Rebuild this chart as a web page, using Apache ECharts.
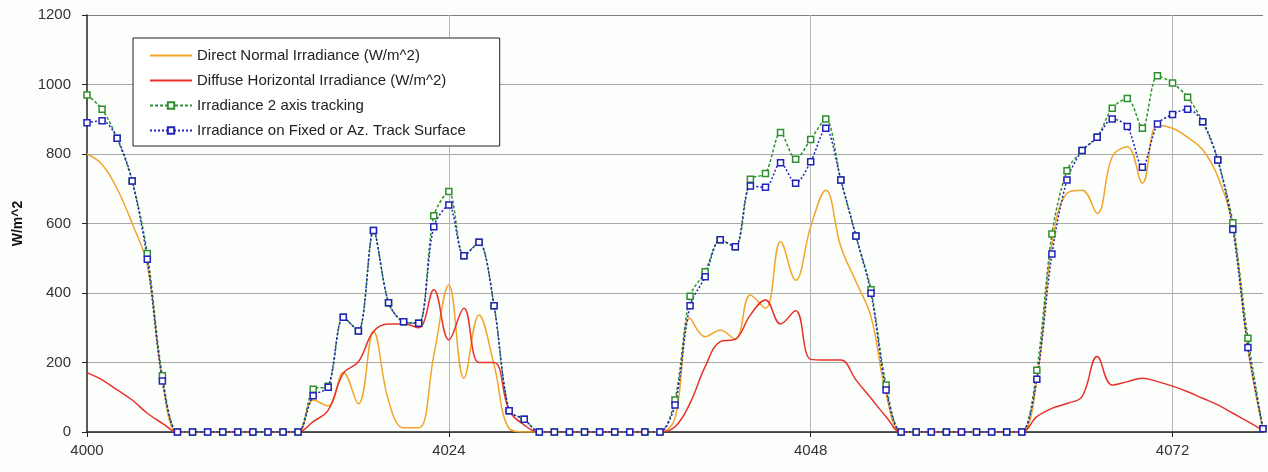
<!DOCTYPE html>
<html>
<head>
<meta charset="utf-8">
<script src="https://cdn.jsdelivr.net/npm/echarts@6/dist/echarts.min.js"></script>
<style>
html,body{margin:0;padding:0;background:#fcfefc;}
#chart{width:1268px;height:472px;}
</style>
</head>
<body>
<div id="chart"></div>
<script>
const startHour = 4000;
const xTicks = [4000, 4024, 4048, 4072];
const seriesNames = [
  'Direct Normal Irradiance (W/m^2)',
  'Diffuse Horizontal Irradiance (W/m^2)',
  'Irradiance 2 axis tracking',
  'Irradiance on Fixed or Az. Track Surface'
];
const directNormal = [
  800, 770, 700, 600, 480, 150,
  0, 0, 0, 0, 0, 0, 0, 0, 0,
  92, 75, 171, 81, 289, 90, 12, 12, 220, 423, 155, 337, 193, 10, 0,
  0, 0, 0, 0, 0, 0, 0, 0, 0,
  40, 327, 274, 293, 267, 394, 356, 548, 437, 591, 696, 533, 433, 332, 110,
  0, 0, 0, 0, 0, 0, 0, 0, 0,
  150, 540, 687, 696, 629, 792, 821, 716, 883, 874, 848, 812, 735, 591, 240, 5
];
const diffuseHorizontal = [
  171, 150, 121, 92, 54, 25,
  0, 0, 0, 0, 0, 0, 0, 0, 0,
  30, 63, 169, 202, 289, 311, 311, 300, 409, 265, 356, 200, 200, 63, 20,
  0, 0, 0, 0, 0, 0, 0, 0, 0,
  15, 83, 188, 260, 267, 337, 380, 311, 349, 209, 207, 207, 150, 97, 44,
  0, 0, 0, 0, 0, 0, 0, 0, 0,
  44, 68, 82, 102, 217, 135, 145, 155, 145, 132, 116, 97, 78, 54, 30, 5
];
const twoAxis = [
  970, 929, 845, 722, 514, 162,
  0, 0, 0, 0, 0, 0, 0, 0, 0,
  123, 132, 330, 291, 580, 372, 317, 313, 622, 692, 507, 546, 363, 61, 37,
  0, 0, 0, 0, 0, 0, 0, 0, 0,
  92, 391, 461, 553, 533, 727, 744, 862, 785, 842, 901, 725, 564, 409, 135,
  0, 0, 0, 0, 0, 0, 0, 0, 0,
  178, 570, 752, 810, 848, 932, 960, 874, 1025, 1004, 963, 893, 783, 602, 270, 9
];
const fixedSurface = [
  890, 896, 845, 722, 497, 147,
  0, 0, 0, 0, 0, 0, 0, 0, 0,
  104, 129, 330, 291, 580, 372, 317, 313, 591, 653, 507, 546, 363, 61, 37,
  0, 0, 0, 0, 0, 0, 0, 0, 0,
  78, 363, 447, 553, 533, 708, 704, 775, 716, 778, 874, 725, 564, 399, 121,
  0, 0, 0, 0, 0, 0, 0, 0, 0,
  152, 512, 725, 810, 848, 901, 879, 762, 886, 914, 929, 893, 783, 583, 243, 9
];

const toPairs = arr => arr.map((v, i) => [startHour + i, v]);
const endHour = startHour + directNormal.length - 1;

const chart = echarts.init(document.getElementById('chart'), null, {renderer: 'canvas'});
const font = '"Liberation Sans", Arial, sans-serif';
chart.setOption({
  backgroundColor: '#fcfefc',
  animation: false,
  textStyle: {fontFamily: font},
  grid: {left: 87, right: 5, top: 15, bottom: 40, containLabel: false},
  legend: {
    orient: 'vertical',
    left: 133, top: 38,
    padding: [10, 34, 8, 16],
    itemGap: 10,
    itemWidth: 42, itemHeight: 8,
    backgroundColor: '#ffffff',
    borderColor: '#222', borderWidth: 1,
    textStyle: {fontFamily: font, fontSize: 15, color: '#222'},
    data: [
      {name: seriesNames[0], itemStyle: {opacity: 0}},
      {name: seriesNames[1], itemStyle: {opacity: 0}},
      {name: seriesNames[2]},
      {name: seriesNames[3]}
    ]
  },
  xAxis: {
    type: 'value', min: startHour, max: endHour, interval: 24,
    axisLine: {show: true, lineStyle: {color: '#222', width: 1.5}},
    axisTick: {show: true, length: 5, lineStyle: {color: '#222'}},
    axisLabel: {fontFamily: font, fontSize: 15, color: '#333', margin: 11, showMaxLabel: false,
      formatter: v => xTicks.includes(v) ? String(v) : ''},
    splitLine: {show: true, showMinLine: false, showMaxLine: false, lineStyle: {color: '#b8b8b8', width: 1}}
  },
  yAxis: {
    type: 'value', min: 0, max: 1200, interval: 200,
    name: 'W/m^2', nameLocation: 'middle', nameGap: 62, nameRotate: 90,
    nameTextStyle: {fontFamily: font, fontSize: 14, fontWeight: 'bold', color: '#111'},
    axisLine: {show: true, lineStyle: {color: '#222', width: 1.5}},
    axisTick: {show: true, length: 5, lineStyle: {color: '#222'}},
    axisLabel: {fontFamily: font, fontSize: 15, color: '#333', margin: 16, formatter: v => String(v)},
    splitLine: {show: true, lineStyle: {color: ['#a8a8a8', '#a8a8a8', '#a8a8a8', '#a8a8a8', '#a8a8a8', '#a8a8a8', '#808080'], width: 1}}
  },
  series: [
    {
      name: seriesNames[0], type: 'line', data: toPairs(directNormal),
      smooth: 0.4, showSymbol: false, symbol: 'none',
      lineStyle: {color: '#f2a52a', width: 1.5}, itemStyle: {color: '#f2a52a'}
    },
    {
      name: seriesNames[1], type: 'line', data: toPairs(diffuseHorizontal),
      smooth: 0.4, showSymbol: false, symbol: 'none',
      lineStyle: {color: '#e8322c', width: 1.5}, itemStyle: {color: '#e8322c'}
    },
    {
      name: seriesNames[2], type: 'line', data: toPairs(twoAxis),
      smooth: 0.3, symbol: 'rect', symbolSize: 6, showSymbol: true,
      lineStyle: {color: '#2f8f2f', width: 1.5, type: [3, 2]},
      itemStyle: {color: '#ffffff', borderColor: '#2f8f2f', borderWidth: 1.5}
    },
    {
      name: seriesNames[3], type: 'line', data: toPairs(fixedSurface),
      smooth: 0.3, symbol: 'rect', symbolSize: 6, showSymbol: true,
      lineStyle: {color: '#2222bb', width: 1.5, type: [2, 2]},
      itemStyle: {color: '#ffffff', borderColor: '#2222bb', borderWidth: 1.5}
    }
  ]
});
</script>
</body>
</html>
